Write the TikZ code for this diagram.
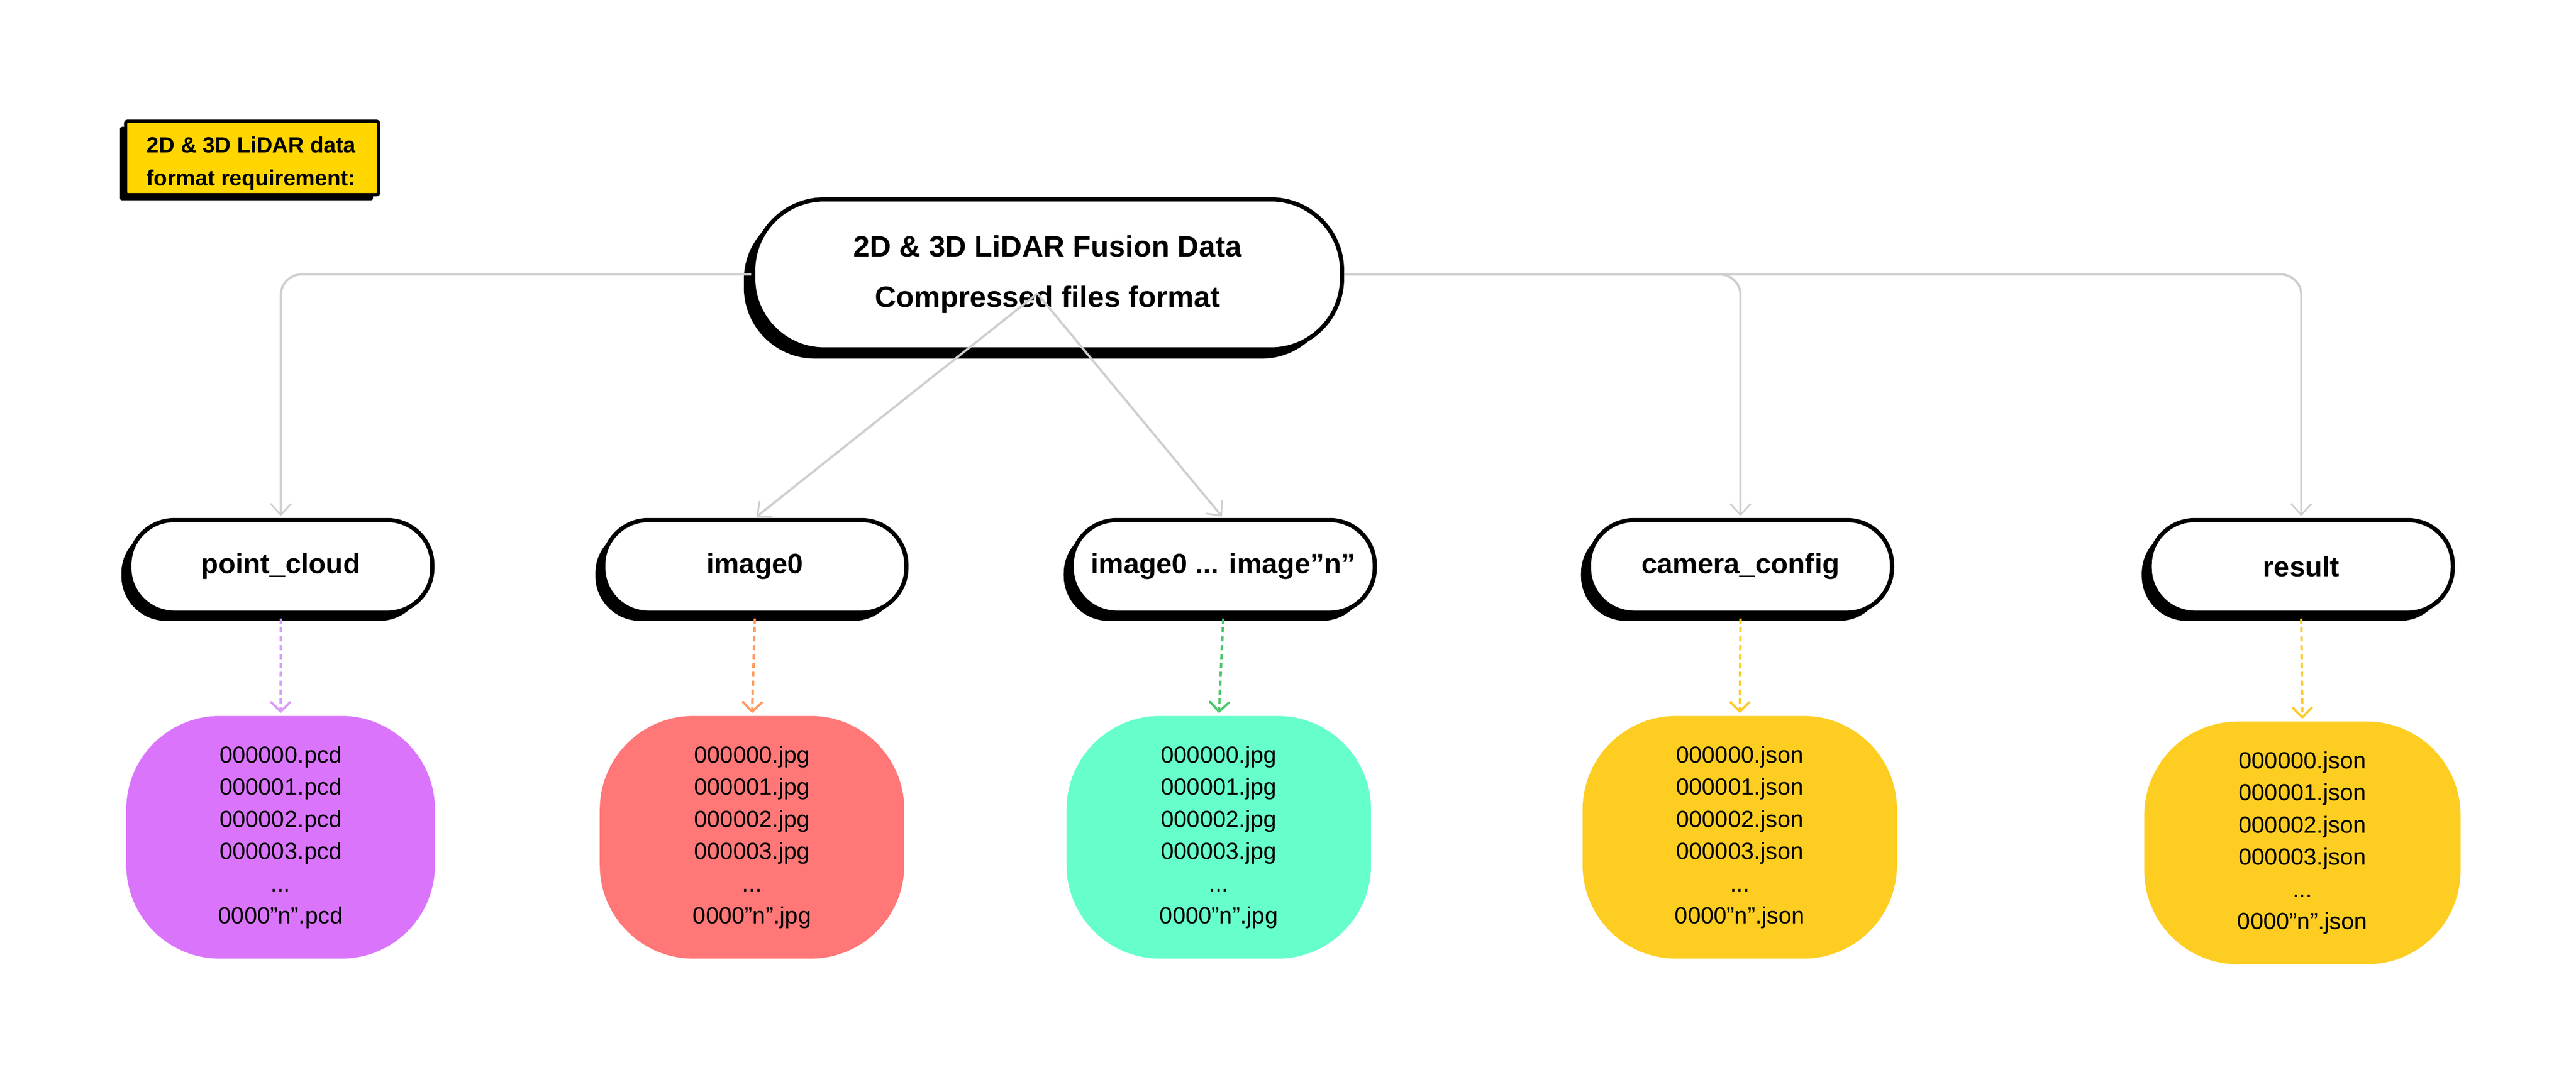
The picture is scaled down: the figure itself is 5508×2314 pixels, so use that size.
\documentclass[tikz,border=0pt]{standalone}
\usepackage{fontspec}
\setmainfont{Liberation Sans}
\usetikzlibrary{arrows.meta,shadows}

\definecolor{conngray}{HTML}{CFCFCF}
\definecolor{lblyellow}{HTML}{FFD600}
\definecolor{boxpurple}{HTML}{DA75FB}
\definecolor{boxred}{HTML}{FF7777}
\definecolor{boxgreen}{HTML}{66FFCC}
\definecolor{boxyellow}{HTML}{FDCD22}
\definecolor{dpurple}{HTML}{D99CF9}
\definecolor{dorange}{HTML}{FF9A5E}
\definecolor{dgreen}{HTML}{4CC76B}
\definecolor{dyellow}{HTML}{FDCB2C}

\begin{document}
\begin{tikzpicture}[x=0.25pt,y=-0.25pt,
  pill/.style={draw=black, line width=2.25pt, fill=white, rounded corners=24pt,
    minimum width=162pt, minimum height=49.5pt, inner sep=0pt,
    font=\fontsize{15pt}{18pt}\selectfont\bfseries,
    general shadow={fill=black, shadow xshift=-4.25pt, shadow yshift=-4.4pt}},
  mainpill/.style={draw=black, line width=2.25pt, fill=white, rounded corners=38pt,
    minimum width=314.75pt, minimum height=80.25pt, inner sep=0pt, align=center,
    font=\fontsize{15.75pt}{27pt}\selectfont\bfseries,
    general shadow={fill=black, shadow xshift=-5pt, shadow yshift=-4.9pt}},
  lblbox/.style={draw=black, line width=1.75pt, fill=lblyellow, rounded corners=1pt,
    minimum width=135.25pt, minimum height=39.25pt, inner sep=0pt,
    general shadow={fill=black, shadow xshift=-3pt, shadow yshift=-3pt}},
  filebox/.style={rounded corners=50pt, minimum height=129.75pt, inner sep=0pt,
    align=center, font=\fontsize{12.5pt}{17.2pt}\selectfont},
  conn/.style={draw=conngray, line width=1.2pt, rounded corners=11pt, shorten >=1pt,
    -{Straight Barb[length=6pt,width=11pt,line width=0.9pt]}},
  dashconn/.style={line width=1.3pt, dash pattern=on 2.75pt off 2pt, shorten >=1.5pt,
    -{Straight Barb[length=5pt,width=10pt,line width=1.25pt,round]}}
]
\useasboundingbox[fill=white] (0,0) rectangle (5508,2314);

% label
\node[lblbox] (lbl) at (539,338) {};
\node[align=center, font=\fontsize{11.75pt}{17.5pt}\selectfont\bfseries] (lbltext) at (537,350)
  {2D \& 3D LiDAR data\\format requirement:};

% main pill
\node[mainpill] (main) at (2240,587) {2D \& 3D LiDAR Fusion Data\\Compressed files format};

% category pills
\node[pill] (pc)   at (600.5,1211.5)  {point\_cloud};
\node[pill] (img)  at (1614,1211.5)   {image0};
\node[pill] (imgn) at (2615.5,1211.5) {image0 ... image”n”};
\node[pill] (cam)  at (3721.5,1211.5) {camera\_config};
\node[pill] (res)  at (4920.5,1211.5) {result};

% file boxes
\node[filebox, fill=boxpurple, minimum width=165pt] (pcbox) at (600,1791)
  {000000.pcd\\000001.pcd\\000002.pcd\\000003.pcd\\...\\0000”n”.pcd};
\node[filebox, fill=boxred, minimum width=162.75pt] (imgbox) at (1608,1791)
  {000000.jpg\\000001.jpg\\000002.jpg\\000003.jpg\\...\\0000”n”.jpg};
\node[filebox, fill=boxgreen, minimum width=162.75pt] (imgnbox) at (2606,1791)
  {000000.jpg\\000001.jpg\\000002.jpg\\000003.jpg\\...\\0000”n”.jpg};
\node[filebox, fill=boxyellow, minimum width=168pt] (cambox) at (3720,1791)
  {000000.json\\000001.json\\000002.json\\000003.json\\...\\0000”n”.json};
\node[filebox, fill=boxyellow, minimum width=169pt] (resbox) at (4923,1803)
  {000000.json\\000001.json\\000002.json\\000003.json\\...\\0000”n”.json};

% gray connectors
\coordinate (hub) at (2218,628);
\draw[conn] (main.west) -| (pc.north);
\draw[conn] (main.east) -| (cam.north);
\draw[conn] (main.east) -| (res.north);
\draw[conn] (hub) -- (img.north);
\draw[conn] (hub) -- (imgn.north);

% dashed connectors
\draw[dashconn, dpurple] ([yshift=-2pt]pc.south) -- (pcbox.north);
\draw[dashconn, dorange] ([yshift=-2pt]img.south) -- (imgbox.north);
\draw[dashconn, dgreen]  ([yshift=-2pt]imgn.south) -- (imgnbox.north);
\draw[dashconn, dyellow] ([yshift=-2pt]cam.south) -- (cambox.north);
\draw[dashconn, dyellow] ([yshift=-2pt]res.south) -- (resbox.north);
\end{tikzpicture}
\end{document}
